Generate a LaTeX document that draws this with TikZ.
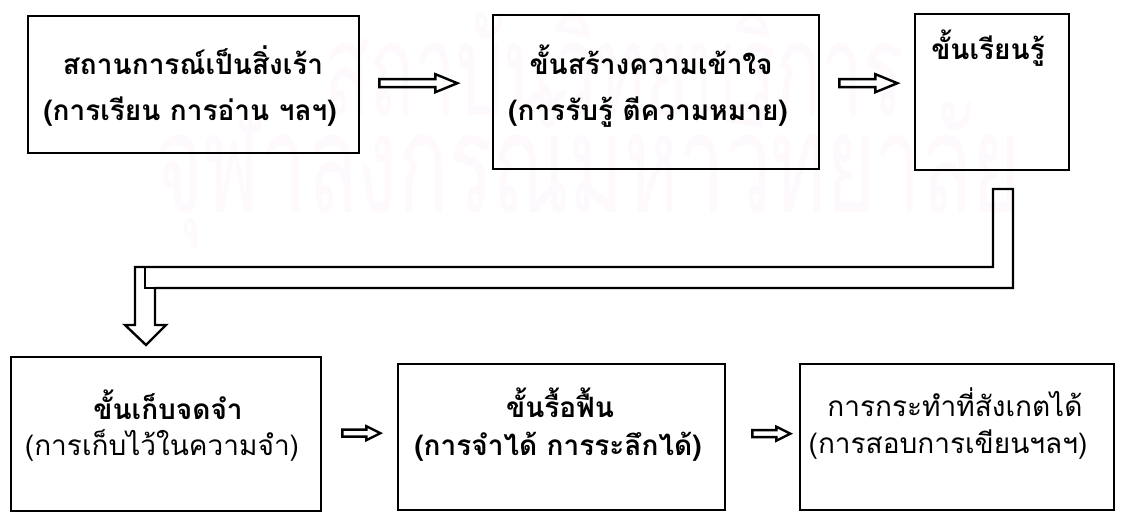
\documentclass[tikz,border=0pt]{standalone}
\usepackage{fontspec}
\newfontfamily\thaifont[Script=Thai]{Loma}
\usetikzlibrary{calc}
\definecolor{wm}{RGB}{254,249,252}
\begin{document}
\begin{tikzpicture}[x=0.5pt,y=-0.5pt,
  box/.style={draw, line width=1.2pt, anchor=north west, inner sep=0pt},
  txt/.style={font=\thaifont\bfseries\fontsize{14}{16}\selectfont, inner sep=0pt},
  txtr/.style={font=\thaifont\fontsize{14}{16}\selectfont, inner sep=0pt},
  wmark/.style={font=\thaifont\fontsize{46}{50}\selectfont, text=wm, inner sep=0pt},
  blockarrow/.style={draw, line width=1.2pt, line join=miter},
  pics/bigarrow/.style={code={\draw[blockarrow] (0,-4) -- ({#1-22},-4) -- ({#1-22},-9) -- (#1,0) -- ({#1-22},9) -- ({#1-22},4) -- (0,4) -- cycle;}},
  pics/smallarrow/.style={code={\draw[blockarrow] (0,-3.5) -- ({#1-14},-3.5) -- ({#1-14},-7) -- (#1,0) -- ({#1-14},7) -- ({#1-14},3.5) -- (0,3.5) -- cycle;}}
]
\useasboundingbox (0,0) rectangle (1126,512);
% watermark
\node[wmark] (w1) at (614,64) {\scalebox{0.81}[1.4]{สถาบันวิทยบริการ}};
\node[wmark] (w2) at (588,170) {\scalebox{0.9}[1.5]{จุฬาลงกรณ์มหาวิทยาลัย}};
% boxes
\node[box, minimum width=165.5pt, minimum height=68.5pt] (b1) at (27,15) {};
\node[box, minimum width=163pt, minimum height=77pt] (b2) at (492,14) {};
\node[box, minimum width=77pt, minimum height=78pt] (b3) at (914,13) {};
\node[box, minimum width=155pt, minimum height=77pt] (b4) at (10,356) {};
\node[box, minimum width=163.5pt, minimum height=73pt] (b5) at (397,363) {};
\node[box, minimum width=157pt, minimum height=73pt] (b6) at (799,363) {};
% texts
\node[txt] (t1a) at (193,60) {สถานการณ์เป็นสิ่งเร้า};
\node[txt] (t1b) at (190,112) {(การเรียน การอ่าน ฯลฯ)};
\node[txt] (t2a) at (651,60) {ขั้นสร้างความเข้าใจ};
\node[txt] (t2b) at (648,112) {(การรับรู้ ตีความหมาย)};
\node[txt] (t3a) at (988,48) {ขั้นเรียนรู้};
\node[txt] (t4a) at (168,405) {ขั้นเก็บจดจำ};
\node[txtr] (t4b) at (162,446) {(การเก็บไว้ในความจำ)};
\node[txt] (t5a) at (560,403) {ขั้นรื้อฟื้น};
\node[txt] (t5b) at (558,447) {(การจำได้ การระลึกได้)};
\node[txtr] (t6a) at (955,402) {การกระทำที่สังเกตได้};
\node[txtr] (t6b) at (948,445) {(การสอบการเขียนฯลฯ)};
% arrows
\pic at ($(b1.east)+(19,-1.5)$) {bigarrow=78};
\pic at ($(b2.east)+(19,-9)$) {bigarrow=58};
\pic at ($(b4.east)+(20,-1)$) {smallarrow=38};
\pic at ($(b5.east)+(26,-3.5)$) {smallarrow=38};
% bent arrow from b3 to b4
\coordinate (bs) at (993,189);
\draw[blockarrow] (bs) -- (1013,189) -- (1013,288) -- (155,288) -- (155,325) -- (166,325) -- (146,345) -- (125,325) -- (135,325) -- (135,267) -- (993,267) -- cycle;
\draw[line width=1.2pt] (145,267) -- (145,288) -- (155,288);
\end{tikzpicture}
\end{document}
